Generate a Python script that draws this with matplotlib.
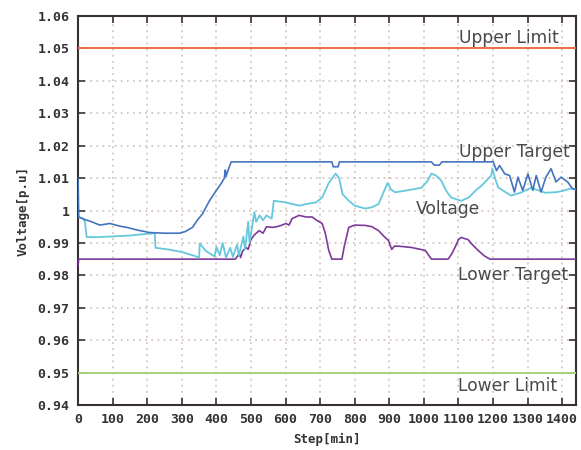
import matplotlib
matplotlib.use("Agg")
import matplotlib.pyplot as plt

# ---- data ----
upper_limit = 1.05
lower_limit = 0.95

ut_step = [0, 2, 20, 40, 63, 92, 120, 141, 170, 207, 250, 293, 310, 331, 345, 360, 380, 400, 415, 423, 426, 428, 435, 443,
           734, 738, 752, 756, 1022, 1030, 1045, 1052, 1195, 1200, 1210, 1219, 1234, 1248, 1262, 1272, 1286, 1301, 1315,
           1325, 1339, 1353, 1368, 1382, 1397, 1416, 1430, 1440]
ut_val = [1.010, 0.998, 0.9972, 0.9965, 0.9955, 0.996, 0.9952, 0.9948, 0.994, 0.9932, 0.993, 0.993, 0.9935, 0.9948, 0.997,
          0.999, 1.003, 1.0062, 1.0085, 1.010, 1.0125, 1.0105, 1.0128, 1.015,
          1.015, 1.0135, 1.0135, 1.015, 1.015, 1.014, 1.014, 1.015, 1.015, 1.0152, 1.0123, 1.0139, 1.0113, 1.0108, 1.0057,
          1.0103, 1.0062, 1.0113, 1.0062, 1.0108, 1.0057, 1.0103, 1.0129, 1.0088, 1.0103, 1.0088, 1.0067, 1.0065]

v_step = [0, 15, 20, 25, 60, 100, 150, 200, 222, 224, 260, 300, 331, 350, 352, 370, 395, 400, 410, 418, 428, 440, 448,
          460, 465, 478, 483, 492, 496, 510, 515, 525, 535, 545, 560, 566, 580, 600, 620, 640, 660, 688, 706, 725, 745,
          755, 765, 783, 800, 831, 850, 869, 895, 905, 917, 950, 993, 1010, 1022, 1035, 1050, 1065, 1079, 1108, 1130,
          1148, 1170, 1195, 1198, 1206, 1215, 1252, 1280, 1310, 1350, 1378, 1400, 1425, 1440]
v_val = [0.998, 0.9975, 0.9965, 0.9918, 0.9918, 0.992, 0.9923, 0.9928, 0.993, 0.9885, 0.988, 0.9872, 0.9862, 0.9855,
         0.9898, 0.9875, 0.9858, 0.9888, 0.9862, 0.990, 0.9855, 0.9885, 0.9857, 0.9895, 0.986, 0.992, 0.988, 0.9965,
         0.990, 0.9995, 0.9965, 0.9985, 0.997, 0.9985, 0.9975, 1.003, 1.0028, 1.0025, 1.002, 1.0015, 1.002, 1.0025,
         1.004, 1.0085, 1.0114, 1.010, 1.005, 1.003, 1.0015, 1.0006, 1.001, 1.002, 1.0085, 1.0065, 1.0056, 1.0062,
         1.007, 1.009, 1.0114, 1.0108, 1.0093, 1.006, 1.004, 1.003, 1.004, 1.006, 1.008, 1.0108, 1.013, 1.0099, 1.0071,
         1.0046, 1.0055, 1.007, 1.0055, 1.0056, 1.006, 1.0068, 1.0065]

lt_step = [0, 2, 455, 466, 470, 476, 486, 492, 500, 510, 524, 535, 545, 562, 575, 590, 601, 610, 619, 639, 660, 677, 690,
           706, 715, 725, 734, 763, 770, 783, 800, 831, 850, 869, 885, 898, 907, 915, 927, 964, 1004, 1022, 1070, 1080,
           1090, 1100, 1108, 1128, 1140, 1157, 1175, 1191, 1440]
lt_val = [0.983, 0.985, 0.985, 0.9867, 0.9855, 0.9875, 0.9886, 0.988, 0.991, 0.9925, 0.9938, 0.993, 0.995, 0.9948, 0.995,
          0.9955, 0.996, 0.9955, 0.9975, 0.9985, 0.998, 0.998, 0.997, 0.996, 0.993, 0.9877, 0.985, 0.985, 0.989, 0.9948,
          0.9955, 0.9954, 0.995, 0.9938, 0.992, 0.9907, 0.988, 0.989, 0.989, 0.9886, 0.9877, 0.985, 0.985, 0.9865,
          0.9886, 0.991, 0.9917, 0.991, 0.9895, 0.9877, 0.986, 0.985, 0.985]

x_ticks = list(range(0, 1401, 100))
y_ticks = [0.94, 0.95, 0.96, 0.97, 0.98, 0.99, 1.00, 1.01, 1.02, 1.03, 1.04, 1.05, 1.06]
y_tick_labels = ["0.94", "0.95", "0.96", "0.97", "0.98", "0.99", "1", "1.01", "1.02", "1.03", "1.04", "1.05", "1.06"]

labels = ["Upper Limit", "Upper Target", "Voltage", "Lower Target", "Lower Limit"]
label_pos = [(1102, 1.0532), (1102, 1.0179), (976, 1.0006), (1098, 0.9800), (1098, 0.9458)]

# ---- figure ----
fig = plt.figure(figsize=(5.81, 4.50), dpi=100)
ax = fig.add_axes([0.1343, 0.100, 0.8571, 0.8644])

ax.axhline(upper_limit, color="#f06a48", lw=1.4, zorder=3)
ax.axhline(lower_limit, color="#a8d27a", lw=1.4, zorder=3)
ax.plot(lt_step, lt_val, color="#7e3a9a", lw=1.2, zorder=4)
ax.plot(v_step, v_val, color="#66c8dc", lw=1.3, zorder=5)
ax.plot(ut_step, ut_val, color="#4474c0", lw=1.2, zorder=6)

for t, (px, py) in zip(labels, label_pos):
    ax.text(px, py, t, fontsize=12.3, color="#4a4a4a", ha="left", va="center",
            family="DejaVu Sans", zorder=7, clip_on=True)

ax.set_xlim(0, 1440)
ax.set_ylim(0.94, 1.06)
ax.set_xticks(x_ticks)
ax.set_xticklabels([str(v) for v in x_ticks])
ax.set_yticks(y_ticks)
ax.set_yticklabels(y_tick_labels)

ax.grid(True, color="#cdbfb6", linestyle=(0, (1.2, 2.8)), lw=1.1)
ax.tick_params(direction="in", length=5, width=1.2, top=True, right=True, color="#3a3030",
               labelsize=9.5, labelcolor="#333333", pad=6)
for lab in ax.get_xticklabels() + ax.get_yticklabels():
    lab.set_family("DejaVu Sans Mono")
    lab.set_fontweight("bold")
for s in ax.spines.values():
    s.set_color("#3a3030")
    s.set_linewidth(1.5)

ax.set_xlabel("Step[min]", family="DejaVu Sans Mono", fontweight="bold", fontsize=9, color="#333333", labelpad=5)
ax.set_ylabel("Voltage[p.u]", family="DejaVu Sans Mono", fontweight="bold", fontsize=9, color="#333333", labelpad=6)

fig.savefig("out.png", dpi=100)
